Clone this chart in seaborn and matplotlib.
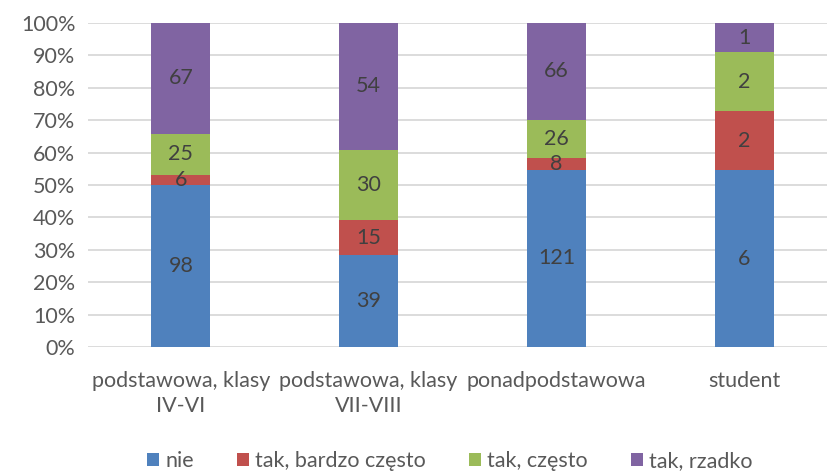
import matplotlib
matplotlib.use('Agg')
import matplotlib.pyplot as plt
from matplotlib.patches import Patch
from matplotlib.ticker import PercentFormatter
import numpy as np
import pandas as pd
import seaborn as sns

# ----------------- data -----------------
categories = ['podstawowa, klasy\nIV-VI', 'podstawowa, klasy\nVII-VIII', 'ponadpodstawowa', 'student']
series_names = ['nie', 'tak, bardzo często', 'tak, często', 'tak, rzadko']
nie = [98, 39, 121, 6]
bardzo_czesto = [6, 15, 8, 2]
czesto = [25, 30, 26, 2]
rzadko = [67, 54, 66, 1]
colors = ['#4F81BD', '#C0504D', '#9BBB59', '#8064A2']

# ----------------- style -----------------
sns.set_theme(style='white')
plt.rcParams['font.family'] = ['Lato', 'DejaVu Sans']
txt_gray = '#595959'
fs = 15.5

counts = pd.DataFrame([nie, bardzo_czesto, czesto, rzadko], index=series_names, columns=categories).T
pct = counts.div(counts.sum(axis=1), axis=0) * 100
cum = pct.cumsum(axis=1)

fig = plt.figure(figsize=(8.28, 4.71), dpi=100)
ax = fig.add_axes([88 / 828, 1 - 347 / 471, 1 - 88 / 828, (347 - 23) / 471])

# draw stacked bars from the top down, each one covering the part below
for name, col in reversed(list(zip(series_names, colors))):
    df = pd.DataFrame({'cat': categories, 'val': cum[name].values})
    sns.barplot(data=df, x='cat', y='val', color=col, width=0.314, saturation=1,
                ax=ax, zorder=3, linewidth=0)

# count labels in the middle of each segment
for i, cat in enumerate(categories):
    bottom = 0
    for name in series_names:
        h = pct.loc[cat, name]
        ax.text(i, bottom + h / 2, str(counts.loc[cat, name]), ha='center', va='center',
                fontsize=fs, color='#404040', zorder=4)
        bottom += h

ax.set_ylim(0, 100)
ax.set_xlim(-0.495, 3.447)
ax.set_yticks(np.arange(0, 101, 10))
ax.yaxis.set_major_formatter(PercentFormatter(decimals=0))
ax.grid(axis='y', color='#D9D9D9', linewidth=1.3, zorder=0)
ax.set_axisbelow(True)
sns.despine(ax=ax, left=True, bottom=True, right=True, top=True)
ax.set_xlabel('')
ax.set_ylabel('')
ax.tick_params(axis='y', labelsize=fs, labelcolor=txt_gray, length=0, pad=9)
ax.tick_params(axis='x', labelsize=fs, labelcolor=txt_gray, length=0, pad=17)
for lab in ax.get_xticklabels():
    lab.set_linespacing(1.35)

handles = [Patch(facecolor=c, edgecolor='none', label=n) for n, c in zip(series_names, colors)]
fig.legend(handles=handles, loc='center', bbox_to_anchor=(450 / 828, 1 - 461 / 471), ncol=4,
           frameon=False, fontsize=fs, labelcolor=txt_gray, handlelength=0.55, handleheight=0.55,
           handletextpad=0.3, columnspacing=2.0)

fig.savefig('out.png', dpi=100)
